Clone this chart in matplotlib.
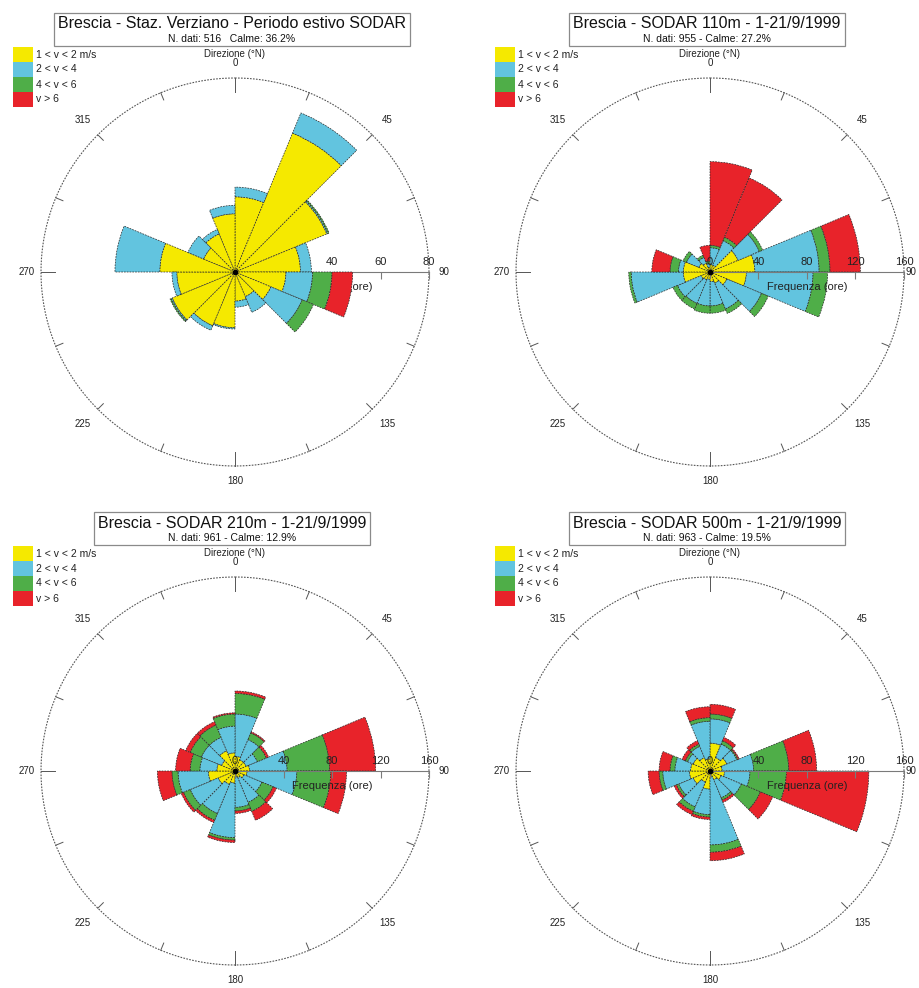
import numpy as np
import matplotlib.pyplot as plt
from matplotlib.patches import Rectangle
from matplotlib.transforms import Bbox

plt.rcParams['font.family'] = ['Liberation Sans', 'DejaVu Sans']

W, H = 920, 988

# sector start angles, degrees clockwise from north
sectors = np.arange(0, 360, 22.5)
classes = ['1 < v < 2 m/s', '2 < v < 4', '4 < v < 6', 'v > 6']
class_colors = ['#f5e900', '#62c4df', '#4fae48', '#e8232a']

# hours per sector for each speed class
verz_v12 = [31, 62, 41, 27, 21, 16, 11, 12, 23, 24, 28, 24, 31, 14, 17, 24]
verz_v24 = [4, 9, 0.5, 4.5, 11, 14, 7, 2.5, 0.5, 2, 0.5, 2, 18.5, 7, 2, 3.5]
verz_v46 = [0, 0, 0.5, 0, 8, 5, 0, 0, 0, 0, 0.5, 0, 0, 0, 0, 0]
verz_v6 = [0, 0, 0, 0, 8.5, 0, 0, 0, 0, 0, 0, 0, 0, 0, 0, 0]

s110_v12 = [6, 6, 25, 37, 30, 15, 10, 8, 6, 7, 8, 22, 22, 10, 8, 4]
s110_v24 = [14, 22, 19, 53, 55, 31, 23, 20, 22, 21, 21, 43, 4, 11, 5, 3]
s110_v46 = [2, 3, 3, 9, 12, 6, 4, 6, 6, 5, 4, 2, 7, 3, 2, 2]
s110_v6 = [69, 53, 0, 25, 0, 0, 0, 0, 0, 0, 0, 0, 15, 0, 0, 13]

s210_v12 = [12, 10, 10, 12, 10, 8, 6, 5, 10, 12, 15, 22, 15, 12, 18, 15]
s210_v24 = [35, 18, 10, 31, 41, 16, 22, 25, 45, 26, 25, 25, 14, 18, 12, 22]
s210_v46 = [17, 6, 8, 35, 28, 10, 8, 3, 2, 6, 6, 5, 8, 10, 11, 10]
s210_v6 = [2, 1, 2, 38, 13, 3, 8, 2, 2, 2, 2, 12, 12, 4, 3, 1]

s500_v12 = [23, 12, 15, 10, 12, 10, 8, 5, 15, 10, 15, 17, 16, 15, 12, 10]
s500_v24 = [20, 12, 9, 26, 21, 18, 16, 56, 21, 22, 13, 22, 13, 5, 10, 31]
s500_v46 = [4, 3, 1, 29, 30, 17, 2, 6, 2, 4, 2, 3, 4, 2, 2, 3]
s500_v6 = [8, 3, 1, 23, 68, 11, 2, 7, 2, 3, 2, 9, 9, 3, 3, 9]

titles = ['Brescia - Staz. Verziano - Periodo estivo SODAR',
          'Brescia - SODAR 110m - 1-21/9/1999',
          'Brescia - SODAR 210m - 1-21/9/1999',
          'Brescia - SODAR 500m - 1-21/9/1999']
subtitles = ['N. dati: 516   Calme: 36.2%',
             'N. dati: 955 - Calme: 27.2%',
             'N. dati: 961 - Calme: 12.9%',
             'N. dati: 963 - Calme: 19.5%']
freq_ticks = [[0, 20, 40, 60, 80], [0, 40, 80, 120, 160],
              [0, 40, 80, 120, 160], [0, 40, 80, 120, 160]]
series = [[verz_v12, verz_v24, verz_v46, verz_v6],
          [s110_v12, s110_v24, s110_v46, s110_v6],
          [s210_v12, s210_v24, s210_v46, s210_v6],
          [s500_v12, s500_v24, s500_v46, s500_v6]]

# panel layout in pixels: center x, center y, radius, legend left
layout = [(235, 272, 194, 13), (710, 272, 194, 495),
          (235, 771, 194, 13), (710, 771, 194, 495)]

fig = plt.figure(figsize=(W / 100, H / 100), dpi=100)
fig.patch.set_facecolor('white')


def fx(x):
    return x / W


def fy(y):
    return 1 - y / H


title_parts = []
for k in range(4):
    cx, cy, rpx, lx = layout[k]
    ticks = freq_ticks[k]
    rmax = ticks[-1]
    # bars under the labels only in the first rose
    bar_z, lab_z = (3, 2) if k == 0 else (2, 4)

    ax = fig.add_axes([fx(cx - rpx), fy(cy + rpx), 2 * rpx / W, 2 * rpx / H],
                      projection='polar')
    ax.set_theta_zero_location('N')
    ax.set_theta_direction(-1)
    ax.set_ylim(0, rmax)
    ax.set_xticks([])
    ax.set_yticks([])
    ax.grid(False)
    ax.spines['polar'].set_visible(False)
    ax.set_facecolor('none')

    theta = np.deg2rad(sectors)
    width = np.deg2rad(22.5)
    bottom = np.zeros(len(sectors))
    for vals, col in zip(series[k], class_colors):
        vals = np.asarray(vals, dtype=float)
        m = vals > 0
        ax.bar(theta[m], vals[m], width=width, bottom=bottom[m], align='edge',
               color=col, edgecolor='#2a2a2a', linewidth=0.5,
               linestyle=(0, (2.5, 1.5)), zorder=bar_z)
        bottom += vals
    ax.plot(0, 0, 'o', ms=3, color='k', zorder=5)

    # outer circle with direction ticks
    th = np.linspace(0, 2 * np.pi, 721)
    ax.plot(th, np.full_like(th, rmax), color='#555555', lw=0.8,
            ls=(0, (1.5, 1.2)), clip_on=False, zorder=1)
    for d in sectors:
        t = np.deg2rad(d)
        L = 0.07 if d % 90 == 0 else 0.04
        ax.plot([t, t], [rmax * (1 - L), rmax], color='#555555', lw=0.7,
                clip_on=False, zorder=1)
    for d in range(0, 360, 45):
        rr = 1.075 if d % 90 == 0 else 1.11
        if d == 90:
            # keep the east label inside the figure edge
            rr = min(rr, (W - 9 - cx) / rpx)
        ax.text(np.deg2rad(d), rmax * rr, str(d), ha='center', va='center',
                fontsize=7, color='#222222', clip_on=False)
    ax.text(0, rmax * 1.125, 'Direzione (°N)', ha='center', va='center',
            fontsize=7, color='#222222', clip_on=False)

    # frequency axis along east
    ax.plot([np.pi / 2, np.pi / 2], [0, rmax], color='#7a7a7a', lw=0.8,
            zorder=lab_z, clip_on=False)
    ax.plot(np.full(len(ticks), np.pi / 2), ticks, ls='none', marker=3, ms=5,
            mew=0.8, color='#7a7a7a', zorder=lab_z, clip_on=False)
    for v in ticks:
        ax.annotate(str(v), xy=(np.pi / 2, v), xytext=(0, 7),
                    textcoords='offset points', ha='center', va='center',
                    fontsize=8, color='#222222', zorder=lab_z,
                    annotation_clip=False)
    ax.annotate('Frequenza (ore)', xy=(np.pi / 2, rmax * 0.5), xytext=(0, -11),
                textcoords='offset points', ha='center', va='center',
                fontsize=8, color='#222222', zorder=lab_z,
                annotation_clip=False)

    # speed class legend
    ty = cy - 225
    for i, (lab, col) in enumerate(zip(classes, class_colors)):
        fig.add_artist(Rectangle((fx(lx), fy(ty + (i + 1) * 15)), 20 / W, 15 / H,
                                 transform=fig.transFigure, facecolor=col,
                                 edgecolor='none'))
        fig.text(fx(lx + 23), fy(ty + i * 15 + 7.5), lab, ha='left',
                 va='center', fontsize=7.5, color='#222222')

    # title block
    tcx = cx - 3
    tty = cy - 248
    t1 = fig.text(fx(tcx), fy(tty), titles[k], ha='center', va='center',
                  fontsize=11.5, color='#111111')
    t2 = fig.text(fx(tcx), fy(tty + 15), subtitles[k], ha='center',
                  va='center', fontsize=7.5, color='#111111')
    title_parts.append((t1, t2, tty))

fig.canvas.draw()
renderer = fig.canvas.get_renderer()
for t1, t2, tty in title_parts:
    bb = Bbox.union([t1.get_window_extent(renderer),
                     t2.get_window_extent(renderer)])
    x0 = bb.x0 - 4
    x1 = bb.x1 + 4
    top = tty - 11
    bot = tty + 22
    fig.add_artist(Rectangle((fx(x0), fy(bot)), (x1 - x0) / W, (bot - top) / H,
                             transform=fig.transFigure, facecolor='none',
                             edgecolor='#8a8a8a', linewidth=0.9))

fig.savefig('out.png', dpi=100, facecolor='white')
